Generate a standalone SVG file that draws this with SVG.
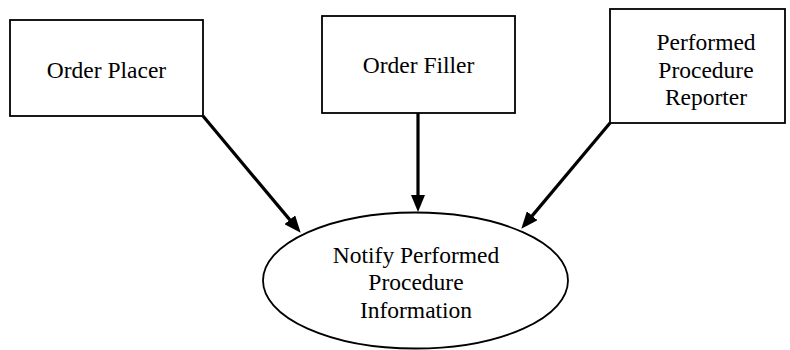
<svg xmlns="http://www.w3.org/2000/svg" width="790" height="350" viewBox="0 0 790 350">
<style>
.box{fill:#fff;stroke:#000;stroke-width:1.8}
.c{stroke:#000;stroke-width:3.2;fill:none}
</style>
<defs>
<marker id="ah" markerUnits="userSpaceOnUse" markerWidth="18" markerHeight="14" refX="8" refY="7" orient="auto">
<path d="M0,0 L17,7 L0,14 z" fill="#000"/>
</marker>
</defs>
<rect width="790" height="350" fill="#fff"/>
<g id="connectors">
<line class="c" x1="203" y1="116" x2="294.9" y2="225.9" marker-end="url(#ah)"/>
<line class="c" x1="418" y1="113" x2="418" y2="203" marker-end="url(#ah)"/>
<line class="c" x1="610" y1="123" x2="527.1" y2="221.9" marker-end="url(#ah)"/>
</g>
<g id="order-placer">
<rect class="box" x="10" y="20" width="193" height="96"/>
<text font-family="Liberation Serif" font-size="23.5" text-anchor="middle" x="106.5" y="78">Order Placer</text>
</g>
<g id="order-filler">
<rect class="box" x="322" y="16" width="193" height="97"/>
<text font-family="Liberation Serif" font-size="23.5" text-anchor="middle" x="418.5" y="73">Order Filler</text>
</g>
<g id="performed-procedure-reporter">
<rect class="box" x="610" y="9" width="175" height="114"/>
<text font-family="Liberation Serif" font-size="23.5" text-anchor="middle" x="706" y="50">Performed</text>
<text font-family="Liberation Serif" font-size="23.5" text-anchor="middle" x="706" y="78">Procedure</text>
<text font-family="Liberation Serif" font-size="23.5" text-anchor="middle" x="706" y="105">Reporter</text>
</g>
<g id="notify-performed-procedure-information">
<ellipse class="box" cx="415.5" cy="280.5" rx="152.5" ry="68"/>
<text font-family="Liberation Serif" font-size="23.5" text-anchor="middle" x="416" y="263">Notify Performed</text>
<text font-family="Liberation Serif" font-size="23.5" text-anchor="middle" x="416" y="290">Procedure</text>
<text font-family="Liberation Serif" font-size="23.5" text-anchor="middle" x="416" y="318">Information</text>
</g>
</svg>
